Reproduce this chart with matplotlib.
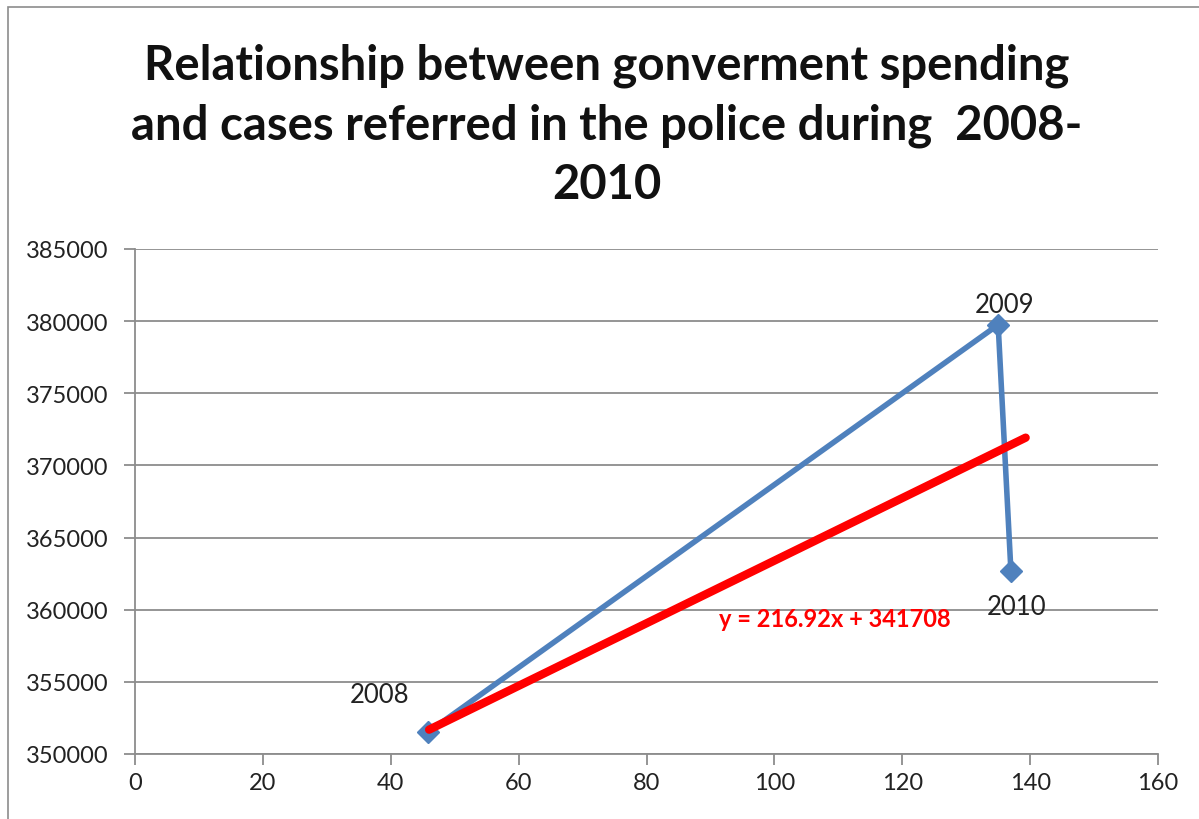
import matplotlib
matplotlib.use("Agg")
import matplotlib.pyplot as plt
from matplotlib.patches import Rectangle

# government spending (x) vs cases referred to police (y)
years = ["2008", "2009", "2010"]
spending = [45.8, 135.0, 137.0]
cases = [351500, 379750, 362650]

# Excel linear trendline as printed on the chart
trend_slope = 216.92
trend_intercept = 341708
trend_x = [46.0, 139.3]

x_ticks = list(range(0, 161, 20))
y_ticks = list(range(350000, 385001, 5000))

plt.rcParams["font.family"] = ["Lato", "DejaVu Sans"]

fig = plt.figure(figsize=(11.99, 8.2), dpi=100)
# chart area outline (only left/top visible in the crop)
fig.patches.append(Rectangle((8 / 1199, -0.1), 1.2, 1 - 8 / 820 + 0.1,
                             transform=fig.transFigure, fill=False,
                             edgecolor="#8c8c8c", linewidth=1.2))

ax = fig.add_axes([135 / 1199, 1 - 755 / 820, (1158 - 135) / 1199, (755 - 250) / 820])

ax.plot(spending, cases, color="#4f81bd", linewidth=4, marker="D",
        markersize=11, zorder=3)
trend_y = [trend_slope * x + trend_intercept for x in trend_x]
ax.plot(trend_x, trend_y, color="#ff0000", linewidth=6, solid_capstyle="round", zorder=4)

label_offsets = {"2008": (-48, 38), "2009": (6, 20), "2010": (6, -35)}
for yr, x, y in zip(years, spending, cases):
    dx, dy = label_offsets[yr]
    ax.annotate(yr, (x, y), xytext=(dx, dy), textcoords="offset pixels",
                ha="center", va="center", fontsize=18.5, color="#222222")

ax.text(109.5, 359400, f"y = {trend_slope}x + {trend_intercept}", color="#ff0000",
        fontsize=17, fontweight="bold", ha="center", va="center")

ax.set_xlim(0, 160)
ax.set_ylim(350000, 385000)
ax.set_xticks(x_ticks)
ax.set_yticks(y_ticks)
ax.grid(axis="y", color="#8c8c8c", linewidth=1.3)
ax.set_axisbelow(True)
for side in ["top", "right"]:
    ax.spines[side].set_visible(False)
for side in ["left", "bottom"]:
    ax.spines[side].set_color("#8c8c8c")
    ax.spines[side].set_linewidth(1.3)
ax.tick_params(axis="both", colors="#8c8c8c", width=1.3, length=8, labelsize=17,
               labelcolor="#222222")
ax.tick_params(axis="x", pad=5)
ax.tick_params(axis="y", pad=11)

fig.text(607 / 1199, 1 - 125 / 820,
         "Relationship between gonverment spending\n"
         "and cases referred in the police during  2008-\n2010",
         ha="center", va="center", fontsize=34, fontweight="bold",
         linespacing=1.42, color="#111111")

fig.savefig("out.png", dpi=100)
